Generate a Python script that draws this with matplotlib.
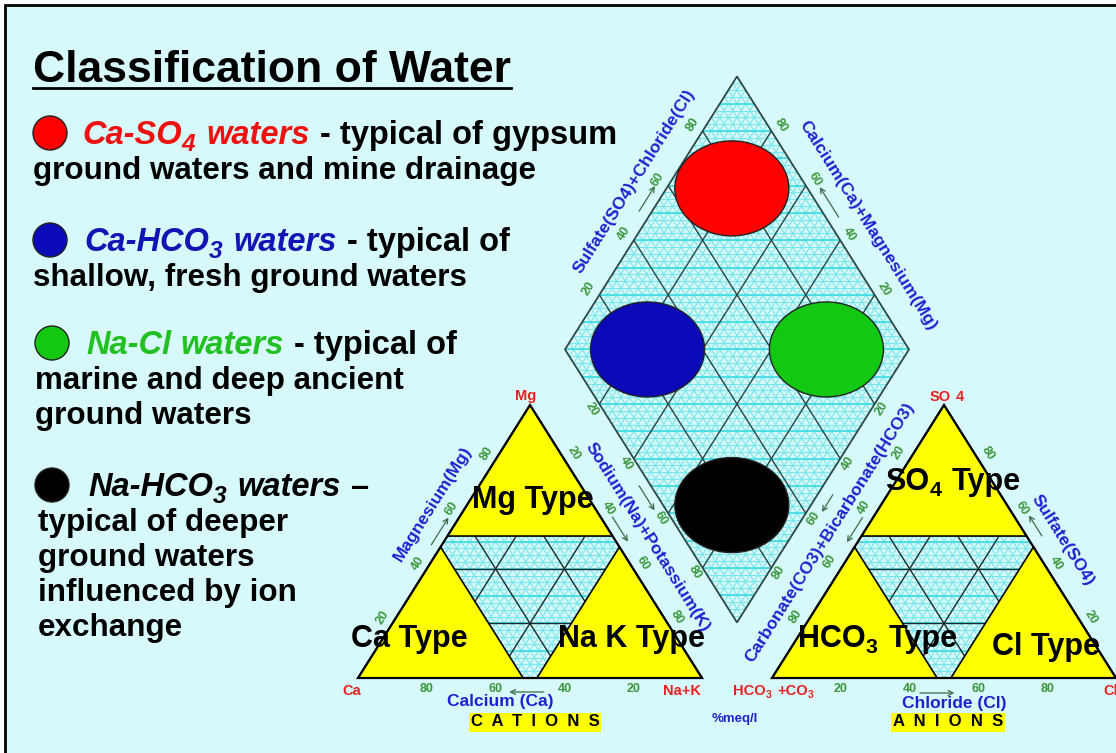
import numpy as np
import matplotlib
matplotlib.use('Agg')
import matplotlib.pyplot as plt
from matplotlib.collections import LineCollection
from matplotlib.patches import Polygon, Ellipse, Rectangle

FONT = ['Liberation Sans', 'DejaVu Sans']

# ---- data ----
ticks = [20, 40, 60, 80]
type_limit = 52                      # dominant ion % where the yellow "type" fields start
water_names = ['Ca-SO', 'Ca-HCO', 'Na-Cl', 'Na-HCO']
water_subs = ['4', '3', '', '3']
water_colors = ['#ff0000', '#0a0ab8', '#12c812', '#000000']
water_text_colors = ['#ee1111', '#1414b4', '#22c022', '#000000']
water_nak = [19, 24, 76, 77]         # % Na+K of the ellipse centre in the diamond
water_so4cl = [78, 24, 76, 20]       # % SO4+Cl of the ellipse centre in the diamond
water_desc = [
    ['- typical of gypsum', 'ground waters and mine drainage'],
    ['- typical of', 'shallow, fresh ground waters'],
    ['- typical of', 'marine and deep ancient', 'ground waters'],
    ['\u2013', 'typical of deeper', 'ground waters', 'influenced by ion', 'exchange'],
]

# ---- geometry (pixels) ----
S, H, GAP = 344, 273, 70
X0, YB = 358, 678
X1 = X0 + S + GAP
LX, LY = X0 + S + GAP / 2 - S / 2, YB - H * GAP / S - H


def cat(l, r, a):
    return X0 + S * (r + a / 2) / 100, YB - H * a / 100


def an(l, r, a):
    return X1 + S * (r + a / 2) / 100, YB - H * a / 100


def dia(nak, so4cl):
    return LX + S / 2 * (so4cl + nak) / 100, LY - H * (so4cl - nak) / 100


L = np.hypot(S / 2, H)
N_UL = np.array([-H, -S / 2]) / L
N_UR = np.array([H, -S / 2]) / L
N_LL = np.array([-H, S / 2]) / L
N_LR = np.array([H, S / 2]) / L
N_DN = np.array([0, 1.0])
ANG = np.degrees(np.arctan2(H, S / 2))

fig = plt.figure(figsize=(11.16, 7.53), dpi=100)
fig.patch.set_facecolor('white')
ax = fig.add_axes([0, 0, 1, 1])
ax.set_xlim(0, 1116)
ax.set_ylim(753, 0)
ax.axis('off')
renderer = fig.canvas.get_renderer()

ax.add_patch(Rectangle((5, 5), 1300, 900, facecolor='#d7f9f9', edgecolor='black', lw=2, zorder=0))

fine = np.arange(2.5, 100, 2.5)
tens = np.arange(10, 100, 10)
CYAN = '#78e6ec'
CYAN2 = '#3fdbe3'
DARK = '#2b4848'


def tri_segments(f, vals, only_h=False):
    segs = []
    for k in vals:
        segs.append([f(100 - k, 0, k), f(0, 100 - k, k)])
        if only_h:
            continue
        segs.append([f(k, 100 - k, 0), f(k, 0, 100 - k)])
        segs.append([f(100 - k, k, 0), f(0, k, 100 - k)])
    return segs


def dia_segments(vals, horiz=None):
    segs = []
    if horiz is None:
        for k in vals:
            segs.append([dia(k, 0), dia(k, 100)])
            segs.append([dia(0, k), dia(100, k)])
    else:
        for k in horiz:
            if k >= 0:
                segs.append([dia(k, 0), dia(100, 100 - k)])
            else:
                segs.append([dia(0, -k), dia(100 + k, 100)])
    return segs


for f in (cat, an):
    ax.add_collection(LineCollection(tri_segments(f, fine), colors=CYAN, lw=0.8, zorder=1))
    ax.add_collection(LineCollection(tri_segments(f, tens, True), colors=CYAN2, lw=1.2, zorder=1))
    ax.add_collection(LineCollection(tri_segments(f, ticks), colors='#1c2c2c', lw=1.0, zorder=2))
    t = type_limit
    for verts in ([f(0, 0, 100), f(100 - t, 0, t), f(0, 100 - t, t)],
                  [f(100, 0, 0), f(t, 100 - t, 0), f(t, 0, 100 - t)],
                  [f(0, 100, 0), f(100 - t, t, 0), f(0, t, 100 - t)]):
        ax.add_patch(Polygon(verts, closed=True, facecolor='#ffff00', edgecolor='black', lw=1.2, zorder=3))
    ax.add_patch(Polygon([f(100, 0, 0), f(0, 100, 0), f(0, 0, 100)], closed=True, fill=False,
                         edgecolor='black', lw=1.6, zorder=4))

ax.add_collection(LineCollection(dia_segments(fine), colors=CYAN, lw=0.8, zorder=1))
ax.add_collection(LineCollection(dia_segments(None, np.arange(-97.5, 100, 2.5)), colors=CYAN, lw=0.8, zorder=1))
ax.add_collection(LineCollection(dia_segments(None, np.arange(-90, 100, 10)), colors=CYAN2, lw=1.2, zorder=1))
ax.add_collection(LineCollection(dia_segments(ticks), colors=DARK, lw=1.0, zorder=2))
ax.add_patch(Polygon([dia(0, 0), dia(0, 100), dia(100, 100), dia(100, 0)], closed=True, fill=False,
                     edgecolor=DARK, lw=1.3, zorder=4))

for col, nk, sc in zip(water_colors, water_nak, water_so4cl):
    ax.add_patch(Ellipse(dia(nk, sc), 114, 95, facecolor=col, edgecolor='#222222', lw=1.0, zorder=5))

# ---- tick labels ----
GREEN = '#3a963a'
tick_sets = [
    (lambda v: cat(100 - v, 0, v), N_UL, 11, ANG),
    (lambda v: cat(0, v, 100 - v), N_UR, 11, -ANG),
    (lambda v: cat(v, 100 - v, 0), N_DN, 11, 0),
    (lambda v: an(v, 0, 100 - v), N_UL, 13, ANG),
    (lambda v: an(0, 100 - v, v), N_UR, 11, -ANG),
    (lambda v: an(100 - v, v, 0), N_DN, 11, 0),
    (lambda v: dia(0, v), N_UL, 12, ANG),
    (lambda v: dia(100 - v, 100), N_UR, 11, -ANG),
    (lambda v: dia(v, 0), N_LL, 9, -ANG),
    (lambda v: dia(100, 100 - v), N_LR, 9, ANG),
]
for pos, nrm, d, rot in tick_sets:
    for v in ticks:
        x, y = np.array(pos(v)) + d * nrm
        ax.text(x, y, str(v), fontsize=9, color=GREEN, fontweight='bold', family=FONT,
                ha='center', va='center', rotation=rot, zorder=7)

# ---- small arrows along the axes ----
arrows = [
    (cat(53, 0, 47), cat(43, 0, 57), N_UL, 9),
    (cat(0, 43, 57), cat(0, 52, 48), N_UR, 10),
    (cat(46, 54, 0), cat(56, 44, 0), N_DN, 14),
    (an(43, 0, 57), an(52, 0, 48), N_UL, 9),
    (an(0, 50.5, 49.5), an(0, 43, 57), N_UR, 13),
    (an(57, 43, 0), an(47, 53, 0), N_DN, 15),
    (dia(0, 48.5), dia(0, 57.7), N_UL, 11),
    (dia(53.7, 100), dia(42.7, 100), N_UR, 11),
    (dia(48, 0), dia(57, 0), N_LL, 10),
    (dia(100, 49.3), dia(100, 43), N_LR, 13),
]
for a, b, nrm, d in arrows:
    ax.annotate('', xy=np.array(b) + d * nrm, xytext=np.array(a) + d * nrm,
                arrowprops=dict(arrowstyle='->,head_length=0.35,head_width=0.18', color='#3d6b4a',
                                lw=0.9, shrinkA=0, shrinkB=0), zorder=7)

# ---- axis titles ----
BLUE = '#2020d0'
titles = [
    ('Magnesium(Mg)', cat(100, 0, 0), cat(0, 0, 100), 0.58, 29, N_UL, ANG),
    ('Sodium(Na)+Potassium(K)', cat(0, 0, 100), cat(0, 100, 0), 0.541, 29.5, N_UR, -ANG),
    ('Carbonate(CO3)+Bicarbonate(HCO3)', an(100, 0, 0), an(0, 0, 100), 0.478, 28.7, N_UL, ANG),
    ('Sulfate(SO4)', an(0, 0, 100), an(0, 100, 0), 0.551, 28.7, N_UR, -ANG),
    ('Sulfate(SO4)+Chloride(Cl)', dia(0, 0), dia(0, 100), 0.556, 31.5, N_UL, ANG),
    ('Calcium(Ca)+Magnesium(Mg)', dia(0, 100), dia(100, 100), 0.608, 31.2, N_UR, -ANG),
]
for txt, p0, p1, t, d, nrm, rot in titles:
    p0, p1 = np.array(p0), np.array(p1)
    x, y = p0 + t * (p1 - p0) + d * nrm
    ax.text(x, y, txt, fontsize=12.5, color=BLUE, fontweight='bold', family=FONT,
            ha='center', va='center', rotation=rot, rotation_mode='anchor', zorder=7)


def rich(x, y, parts, size, ha='left', sub_scale=0.7):
    pxpt = fig.dpi / 72
    items = []
    cx = 0.0
    for txt, col, ital, sub, gap in parts:
        if gap:
            cx += 0.3 * size * pxpt
        fs = size * sub_scale if sub else size
        dy = 0.2 * size * pxpt if sub else 0.0
        tx = ax.text(0, y + dy, txt, fontsize=fs, color=col, fontweight='bold',
                     fontstyle='italic' if ital else 'normal', family=FONT,
                     ha='left', va='baseline', zorder=8)
        items.append((tx, cx))
        cx += tx.get_window_extent(renderer).width + (1.5 if sub else 0)
    x0 = x - cx / 2 if ha == 'center' else x
    for tx, off in items:
        tx.set_x(x0 + off)
    return x0, cx


# ---- type labels ----
K = 'black'
rich(533, 508, [('Mg Type', K, False, False, False)], 22, 'center')
rich(409, 647, [('Ca Type', K, False, False, False)], 22, 'center')
rich(632, 647, [('Na K Type', K, False, False, False)], 22, 'center')
rich(953, 490, [('SO', K, False, False, False), ('4', K, False, True, False),
                ('Type', K, False, False, True)], 22, 'center')
rich(878, 647, [('HCO', K, False, False, False), ('3', K, False, True, False),
                ('Type', K, False, False, True)], 22, 'center')
rich(1046, 655, [('Cl Type', K, False, False, False)], 22, 'center')

# ---- vertex labels ----
RED = '#e82020'
rich(526, 400, [('Mg', RED, False, False, False)], 10.5, 'center')
rich(352, 695, [('Ca', RED, False, False, False)], 10.5, 'center')
rich(682, 695, [('Na+K', RED, False, False, False)], 10.5, 'center')
rich(930, 401, [('SO', RED, False, False, False), ('4', RED, False, False, True)], 10.5)
rich(733, 695, [('HCO', RED, False, False, False), ('3', RED, False, True, False),
                ('+CO', RED, False, False, True), ('3', RED, False, True, False)], 10.5)
rich(1103, 695, [('Cl', RED, False, False, False)], 10.5)

rich(500, 706, [('Calcium (Ca)', BLUE, False, False, False)], 12.5, 'center')
rich(954, 708, [('Chloride (Cl)', BLUE, False, False, False)], 12.5, 'center')
rich(735, 722, [('%meq/l', BLUE, False, False, False)], 9.5, 'center')

for txt, xc in (('C  A  T  I  O  N  S', 535), ('A  N  I  O  N  S', 948)):
    ax.text(xc, 722, txt, fontsize=12, fontweight='bold', family=FONT, color='black',
            ha='center', va='center', zorder=8,
            bbox=dict(boxstyle='square,pad=0.12', facecolor='#ffff00', edgecolor='none'))

# ---- left hand text ----
x0, w = rich(33, 82, [('Classification of Water', K, False, False, False)], 32)
ax.plot([x0, x0 + w], [88, 88], color='black', lw=2, zorder=8)

head_y = [144, 251, 354, 496]
head_x = [82, 84, 86, 88]
dot_x = [50, 50, 52, 52]
line_x = [33, 33, 35, 38]
for i in range(4):
    yb = head_y[i]
    ax.add_patch(Ellipse((dot_x[i], yb - 11), 34, 34, facecolor=water_colors[i],
                         edgecolor='#222222', lw=1.0, zorder=8))
    parts = [(water_names[i], water_text_colors[i], True, False, False)]
    if water_subs[i]:
        parts.append((water_subs[i], water_text_colors[i], True, True, False))
    parts.append(('waters', water_text_colors[i], True, False, True))
    parts.append((water_desc[i][0], K, False, False, True))
    rich(head_x[i], yb, parts, 23.5, sub_scale=0.75)
    for j, line in enumerate(water_desc[i][1:]):
        rich(line_x[i], yb + 35 * (j + 1), [(line, K, False, False, False)], 22.6)

fig.savefig('out.png', dpi=100, facecolor=fig.get_facecolor())
